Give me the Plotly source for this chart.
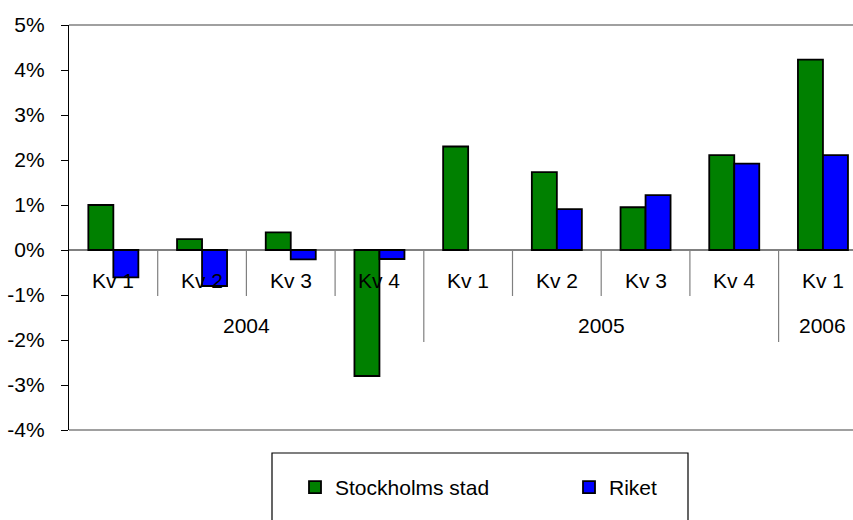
import plotly.graph_objects as go

quarters = ["Kv 1", "Kv 2", "Kv 3", "Kv 4", "Kv 1", "Kv 2", "Kv 3", "Kv 4", "Kv 1"]
years = ["2004", "2005", "2006"]
year_centers = [1.5, 5.5, 8]
stockholm = [1.0, 0.24, 0.39, -2.8, 2.3, 1.73, 0.95, 2.11, 4.23]
riket = [-0.61, -0.8, -0.21, -0.2, None, 0.91, 1.22, 1.92, 2.11]
yticks = [-4, -3, -2, -1, 0, 1, 2, 3, 4, 5]
ytick_labels = [f"{v}%" for v in yticks]

FONT = "Liberation Sans, Arial, sans-serif"
x = list(range(len(quarters)))

fig = go.Figure()
fig.add_trace(go.Bar(x=x, y=stockholm, name="Stockholms stad",
                     marker=dict(color="#008000", line=dict(color="black", width=1.8))))
fig.add_trace(go.Bar(x=x, y=riket, name="Riket",
                     marker=dict(color="#0000FF", line=dict(color="black", width=1.8))))

L, T, B = 69, 25, 90
W, H = 853, 520
ph = H - T - B
pw = W - L
def py(pix):
    return (H - B - pix) / ph
def px(pix):
    return (pix - L) / pw

shapes = []
for i in range(len(quarters) - 1):
    long = quarters[i + 1] == "Kv 1"
    shapes.append(dict(type="line", xref="x", yref="paper", x0=i + 0.5, x1=i + 0.5,
                       y0=py(250), y1=py(342 if long else 296),
                       line=dict(color="#808080", width=1.2)))
shapes.append(dict(type="line", xref="paper", yref="paper", x0=0, x1=1, y0=1, y1=1,
                   line=dict(color="#808080", width=1.5)))
shapes.append(dict(type="line", xref="paper", yref="paper", x0=0, x1=1, y0=0, y1=0,
                   line=dict(color="#808080", width=1.5)))
shapes.append(dict(type="rect", xref="paper", yref="paper", x0=px(272), x1=px(688),
                   y0=py(453), y1=py(530), line=dict(color="black", width=1.2),
                   fillcolor="rgba(0,0,0,0)"))

annotations = []
for i, q in enumerate(quarters):
    annotations.append(dict(x=i, y=py(280), xref="x", yref="paper", text=q, showarrow=False,
                            font=dict(family=FONT, size=21, color="black"), yanchor="middle"))
for yr, c in zip(years, year_centers):
    annotations.append(dict(x=c, y=py(325), xref="x", yref="paper", text=yr, showarrow=False,
                            font=dict(family=FONT, size=21, color="black"), yanchor="middle"))

fig.update_layout(
    width=W, height=H,
    margin=dict(l=L, r=0, t=T, b=B, autoexpand=False),
    paper_bgcolor="white", plot_bgcolor="white",
    barmode="group", bargap=0.436, bargroupgap=0,
    font=dict(family=FONT, size=21, color="black"),
    xaxis=dict(range=[-0.5, -0.5 + pw / 88.7], showticklabels=False, showgrid=False,
               zeroline=False, showline=False, ticks=""),
    yaxis=dict(range=[-4, 5], tickmode="array", tickvals=yticks, ticktext=ytick_labels,
               showgrid=False, automargin=False, ticklabelstandoff=12,
               zeroline=True, zerolinecolor="#808080", zerolinewidth=1.5,
               showline=True, linecolor="black", linewidth=1.2,
               ticks="outside", ticklen=7, tickcolor="black", tickwidth=1.2,
               tickfont=dict(family=FONT, size=21, color="black")),
    showlegend=True,
    legend=dict(orientation="h", x=px(295), xanchor="left", y=py(467), yanchor="top",
                entrywidth=229, bgcolor="rgba(0,0,0,0)", borderwidth=0,
                font=dict(family=FONT, size=21, color="black"), itemwidth=30,
                traceorder="normal"),
    shapes=shapes, annotations=annotations,
)

fig.write_html("out.html", config={"displayModeBar": False},
               post_script="document.body.style.margin='0';document.body.style.padding='0';")
